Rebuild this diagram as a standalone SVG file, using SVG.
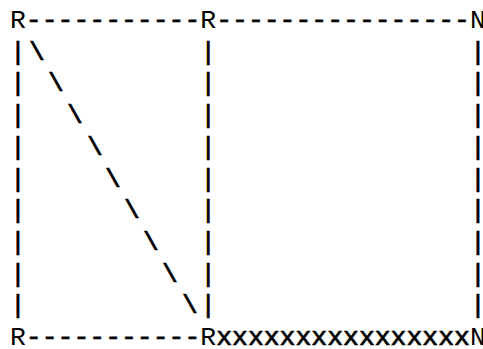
<svg xmlns="http://www.w3.org/2000/svg" width="483" height="349" viewBox="0 0 483 349">
<style>
text{font-family:"Liberation Mono","Courier New",monospace;font-size:26.43px;fill:#000}
.c{text-anchor:middle}
#connectors text{stroke:#000;stroke-width:0.7px}
</style>
<rect width="483" height="349" fill="#fff"/>
<g id="connectors">
<text x="25.86" y="28">-----------</text>
<text x="216.2" y="28">----------------</text>
<text x="25.86" y="345">-----------</text>
<text x="216.2" y="345">xxxxxxxxxxxxxxxx</text>
<g class="c">
<text x="18 208.2 478" y="59.7">|||</text>
<text x="18 208.2 478" y="91.4">|||</text>
<text x="18 208.2 478" y="123.1">|||</text>
<text x="18 208.2 478" y="154.8">|||</text>
<text x="18 208.2 478" y="186.5">|||</text>
<text x="18 208.2 478" y="218.2">|||</text>
<text x="18 208.2 478" y="249.9">|||</text>
<text x="18 208.2 478" y="281.6">|||</text>
<text x="18 208.2 478" y="313.3">|||</text>
<text x="37" y="59.7">\</text>
<text x="56" y="91.4">\</text>
<text x="75" y="123.1">\</text>
<text x="95" y="154.8">\</text>
<text x="113" y="186.5">\</text>
<text x="132" y="218.2">\</text>
<text x="151" y="249.9">\</text>
<text x="170" y="281.6">\</text>
<text x="190" y="313.3">\</text>
</g>
</g>
<g id="node-r-top-left"><text x="10" y="28">R</text></g>
<g id="node-r-top-mid"><text x="200.3" y="28">R</text></g>
<g id="node-n-top-right"><text x="469.9" y="28">N</text></g>
<g id="node-r-bottom-left"><text x="10" y="345">R</text></g>
<g id="node-r-bottom-mid"><text x="200.3" y="345">R</text></g>
<g id="node-n-bottom-right"><text x="469.9" y="345">N</text></g>
</svg>
